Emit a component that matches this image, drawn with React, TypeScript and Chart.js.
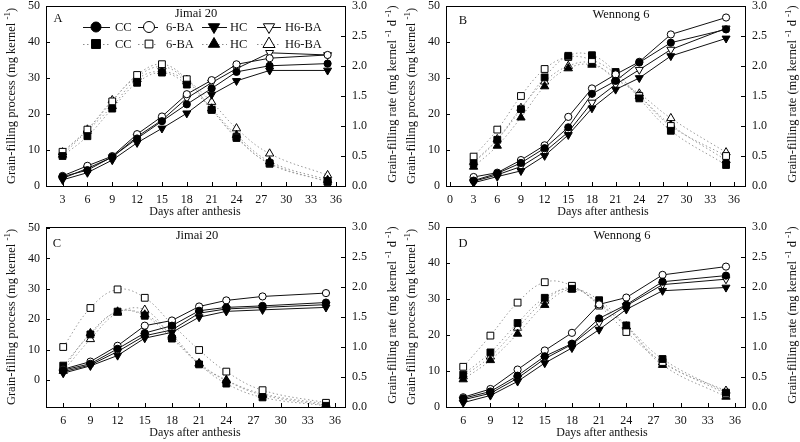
import React, { useEffect, useRef } from "react";
import { Chart, registerables } from "chart.js";
Chart.register(...registerables);

const FONT = '"Liberation Serif", "Times New Roman", Times, serif';

const treatments = ["CC", "6-BA", "HC", "H6-BA"];

const daysAB = [3, 6, 9, 12, 15, 18, 21, 24, 28, 35];
const daysCD = [6, 9, 12, 15, 18, 21, 24, 28, 35];

const xTicksA = [3, 6, 9, 12, 15, 18, 21, 24, 27, 30, 33, 36];
const xTicksB = [0, 3, 6, 9, 12, 15, 18, 21, 24, 27, 30, 33, 36];
const xTicksCD = [6, 9, 12, 15, 18, 21, 24, 27, 30, 33, 36];
const leftTicks = [0, 10, 20, 30, 40, 50];
const rightTicks = [0, 0.5, 1, 1.5, 2, 2.5, 3];

// Panel A (Jimai 20) — grain-filling process (mg kernel-1)
const aProcCC = [2.6, 4.4, 8.1, 13.2, 18.0, 22.7, 27.1, 31.7, 33.4, 34.0];
const aProc6BA = [2.8, 5.6, 8.3, 14.4, 19.3, 25.5, 29.4, 33.8, 35.5, 36.4];
const aProcHC = [1.7, 3.7, 7.2, 12.0, 16.0, 20.2, 25.4, 29.2, 32.1, 32.1];
const aProcH6BA = [2.1, 4.9, 8.0, 13.7, 18.3, 24.4, 28.7, 32.6, 37.0, 36.4];
// Panel A — grain-filling rate (mg kernel-1 d-1)
const aRateCC = [0.5, 0.83, 1.29, 1.72, 1.89, 1.69, 1.27, 0.8, 0.38, 0.07];
const aRate6BA = [0.57, 0.94, 1.41, 1.85, 2.03, 1.78, 1.27, 0.82, 0.37, 0.07];
const aRateHC = [0.52, 0.92, 1.33, 1.78, 1.91, 1.74, 1.29, 0.85, 0.41, 0.1];
const aRateH6BA = [0.56, 0.94, 1.43, 1.82, 1.99, 1.77, 1.4, 0.96, 0.54, 0.18];

// Panel B (Wennong 6)
const bProcCC = [1.5, 3.5, 6.4, 10.5, 16.3, 25.6, 29.2, 34.3, 39.8, 43.5];
const bProc6BA = [2.5, 3.7, 7.2, 11.3, 19.2, 27.1, 31.0, 34.5, 42.1, 46.8];
const bProcHC = [0.9, 2.6, 4.2, 8.4, 14.2, 21.6, 26.8, 30.0, 36.1, 41.0];
const bProcH6BA = [1.3, 3.1, 5.4, 9.5, 15.0, 23.2, 28.2, 32.3, 37.9, 43.8];
const bRateCC = [0.38, 0.77, 1.28, 1.81, 2.17, 2.18, 1.9, 1.46, 0.92, 0.35];
const bRate6BA = [0.49, 0.94, 1.5, 1.95, 2.15, 2.1, 1.87, 1.5, 1.0, 0.5];
const bRateHC = [0.32, 0.67, 1.14, 1.66, 1.96, 2.02, 1.8, 1.5, 1.02, 0.43];
const bRateH6BA = [0.4, 0.78, 1.3, 1.74, 2.0, 2.05, 1.78, 1.54, 1.13, 0.56];

// Panel C (Jimai 20)
const cProcCC = [3.3, 5.4, 10.3, 15.5, 17.9, 22.8, 23.9, 24.4, 25.5];
const cProc6BA = [3.6, 6.1, 11.3, 17.9, 19.6, 24.2, 26.2, 27.5, 28.6];
const cProcHC = [2.3, 4.7, 8.1, 13.8, 15.7, 20.7, 22.6, 23.1, 23.9];
const cProcH6BA = [2.8, 5.0, 9.4, 14.6, 16.5, 22.0, 23.4, 23.9, 24.8];
const cRateCC = [0.69, 1.21, 1.59, 1.52, 1.14, 0.71, 0.39, 0.16, 0.02];
const cRate6BA = [1.0, 1.65, 1.96, 1.82, 1.38, 0.95, 0.59, 0.28, 0.07];
const cRateHC = [0.64, 1.23, 1.59, 1.54, 1.2, 0.72, 0.44, 0.2, 0.03];
const cRateH6BA = [0.6, 1.13, 1.57, 1.62, 1.17, 0.73, 0.45, 0.22, 0.05];

// Panel D (Wennong 6)
const dProcCC = [2.4, 4.3, 8.7, 14.1, 17.6, 24.6, 28.4, 34.8, 36.5];
const dProc6BA = [2.7, 5.0, 10.4, 15.7, 20.6, 28.5, 30.4, 36.7, 39.0];
const dProcHC = [1.2, 3.2, 7.1, 12.2, 16.4, 21.5, 27.1, 32.3, 33.2];
const dProcH6BA = [2.0, 3.8, 8.0, 13.4, 17.4, 23.4, 28.1, 34.0, 35.5];
const dRateCC = [0.54, 0.91, 1.4, 1.82, 1.97, 1.78, 1.36, 0.8, 0.24];
const dRate6BA = [0.67, 1.19, 1.74, 2.08, 2.02, 1.69, 1.25, 0.75, 0.22];
const dRateHC = [0.46, 0.78, 1.22, 1.7, 1.96, 1.73, 1.34, 0.7, 0.17];
const dRateH6BA = [0.51, 0.84, 1.32, 1.77, 1.99, 1.71, 1.34, 0.74, 0.27];

type Shape = "circle" | "rect" | "triangle";
interface MarkStyle { shape: Shape; filled: boolean; r: number; rot: number }

const procStyles: MarkStyle[] = [
  { shape: "circle", filled: true, r: 3.6, rot: 0 },
  { shape: "circle", filled: false, r: 3.6, rot: 0 },
  { shape: "triangle", filled: true, r: 4.6, rot: 180 },
  { shape: "triangle", filled: false, r: 4.6, rot: 180 },
];
const rateStyles: MarkStyle[] = [
  { shape: "rect", filled: true, r: 4.8, rot: 0 },
  { shape: "rect", filled: false, r: 4.8, rot: 0 },
  { shape: "triangle", filled: true, r: 4.8, rot: 0 },
  { shape: "triangle", filled: false, r: 4.8, rot: 0 },
];

interface PanelSpec {
  left: number; top: number;
  days: number[]; xTicks: number[]; xMin: number; xMax: number;
  yMin: number; yMax: number;
  proc: number[][]; rate: number[][];
  title: string; titleX: number; titleY: number;
  letter: string; letterX: number; letterY: number;
  xTitleX: number; legend: boolean;
}

const panels: PanelSpec[] = [
  {
    left: 0, top: 0, days: daysAB, xTicks: xTicksA, xMin: 1, xMax: 37.1, yMin: 0, yMax: 50,
    proc: [aProcCC, aProc6BA, aProcHC, aProcH6BA], rate: [aRateCC, aRate6BA, aRateHC, aRateH6BA],
    title: "Jimai 20", titleX: 196, titleY: 14, letter: "A", letterX: 58, letterY: 19,
    xTitleX: 195, legend: true,
  },
  {
    left: 400, top: 0, days: daysAB, xTicks: xTicksB, xMin: -0.5, xMax: 37.4, yMin: 0, yMax: 50,
    proc: [bProcCC, bProc6BA, bProcHC, bProcH6BA], rate: [bRateCC, bRate6BA, bRateHC, bRateH6BA],
    title: "Wennong 6", titleX: 221, titleY: 15, letter: "B", letterX: 63, letterY: 21,
    xTitleX: 203, legend: false,
  },
  {
    left: 0, top: 221, days: daysCD, xTicks: xTicksCD, xMin: 4.1, xMax: 37.1, yMin: -8.8, yMax: 50.3,
    proc: [cProcCC, cProc6BA, cProcHC, cProcH6BA], rate: [cRateCC, cRate6BA, cRateHC, cRateH6BA],
    title: "Jimai 20", titleX: 197, titleY: 15, letter: "C", letterX: 57, letterY: 23,
    xTitleX: 195, legend: false,
  },
  {
    left: 400, top: 221, days: daysCD, xTicks: xTicksCD, xMin: 4.1, xMax: 37.1, yMin: 0, yMax: 50,
    proc: [dProcCC, dProc6BA, dProcHC, dProcH6BA], rate: [dRateCC, dRate6BA, dRateHC, dRateH6BA],
    title: "Wennong 6", titleX: 222, titleY: 15, letter: "D", letterX: 63, letterY: 23,
    xTitleX: 202, legend: false,
  },
];

function drawShape(ctx: CanvasRenderingContext2D, shape: Shape, x: number, y: number, r: number, rot: number, filled: boolean) {
  ctx.beginPath();
  if (shape === "circle") {
    ctx.arc(x, y, r, 0, Math.PI * 2);
  } else if (shape === "rect") {
    const s = r * Math.SQRT1_2;
    ctx.rect(x - s, y - s, 2 * s, 2 * s);
  } else {
    let a = (rot * Math.PI) / 180;
    ctx.moveTo(x + Math.sin(a) * r, y - Math.cos(a) * r);
    a += (2 * Math.PI) / 3;
    ctx.lineTo(x + Math.sin(a) * r, y - Math.cos(a) * r);
    a += (2 * Math.PI) / 3;
    ctx.lineTo(x + Math.sin(a) * r, y - Math.cos(a) * r);
    ctx.closePath();
  }
  ctx.fillStyle = filled ? "#000" : "#fff";
  ctx.fill();
  ctx.lineWidth = 1;
  ctx.strokeStyle = "#000";
  ctx.stroke();
}

type Part = { t: string; sup?: boolean };
function drawRotatedTitle(ctx: CanvasRenderingContext2D, cx: number, cy: number, parts: Part[], size: number) {
  const main = `${size}px ${FONT}`;
  const sup = `${Math.round(size * 0.68)}px ${FONT}`;
  let total = 0;
  const widths = parts.map((p) => {
    ctx.font = p.sup ? sup : main;
    const w = ctx.measureText(p.t).width;
    total += w;
    return w;
  });
  ctx.save();
  ctx.translate(cx, cy);
  ctx.rotate(-Math.PI / 2);
  ctx.textBaseline = "middle";
  ctx.textAlign = "left";
  ctx.fillStyle = "#111";
  let x = -total / 2;
  parts.forEach((p, i) => {
    ctx.font = p.sup ? sup : main;
    ctx.fillText(p.t, x, p.sup ? -size * 0.35 : 0);
    x += widths[i];
  });
  ctx.restore();
}

function makeDecor(p: PanelSpec) {
  return {
    id: "decor" + p.letter,
    afterDraw(chart: any) {
      const { ctx, chartArea: a, scales } = chart;
      ctx.save();
      ctx.strokeStyle = "#000";
      ctx.lineWidth = 1;
      ctx.strokeRect(Math.round(a.left) + 0.5, Math.round(a.top) + 0.5, Math.round(a.right - a.left), Math.round(a.bottom - a.top));
      const tl = 4;
      ctx.beginPath();
      scales.x.ticks.forEach((t: any) => {
        const px = Math.round(scales.x.getPixelForValue(t.value)) + 0.5;
        ctx.moveTo(px, a.bottom);
        ctx.lineTo(px, a.bottom - tl);
      });
      scales.y.ticks.forEach((t: any) => {
        const py = Math.round(scales.y.getPixelForValue(t.value)) + 0.5;
        ctx.moveTo(a.left, py);
        ctx.lineTo(a.left + tl, py);
      });
      scales.y1.ticks.forEach((t: any) => {
        const py = Math.round(scales.y1.getPixelForValue(t.value)) + 0.5;
        ctx.moveTo(a.right, py);
        ctx.lineTo(a.right - tl, py);
      });
      ctx.stroke();

      // axis titles
      drawRotatedTitle(ctx, 12, (a.top + a.bottom) / 2, [
        { t: "Grain-filling process (mg kernel " }, { t: "-1", sup: true }, { t: ")" },
      ], 12.5);
      drawRotatedTitle(ctx, 393, (a.top + a.bottom) / 2 - 2, [
        { t: "Grain-filling rate (mg kernel " }, { t: "-1", sup: true }, { t: " d " }, { t: "-1", sup: true }, { t: ")" },
      ], 12.5);
      ctx.fillStyle = "#111";
      ctx.font = `12px ${FONT}`;
      ctx.textAlign = "center";
      ctx.textBaseline = "middle";
      ctx.fillText("Days after anthesis", p.xTitleX, 212);

      // panel title and letter
      ctx.font = `12.5px ${FONT}`;
      ctx.fillText(p.title, p.titleX, p.titleY);
      ctx.fillText(p.letter, p.letterX, p.letterY);

      if (p.legend) {
        const cols = [
          { l0: 83, l1: 110, m: 96, t: 115 },
          { l0: 138, l1: 158, m: 149, t: 166 },
          { l0: 202, l1: 227, m: 214, t: 230 },
          { l0: 257, l1: 281, m: 269, t: 285 },
        ];
        const rows = [27, 44];
        const legProc: MarkStyle[] = [
          { shape: "circle", filled: true, r: 5, rot: 0 },
          { shape: "circle", filled: false, r: 5.5, rot: 0 },
          { shape: "triangle", filled: true, r: 6.5, rot: 180 },
          { shape: "triangle", filled: false, r: 6.5, rot: 180 },
        ];
        const legRate: MarkStyle[] = [
          { shape: "rect", filled: true, r: 6.3, rot: 0 },
          { shape: "rect", filled: false, r: 5.5, rot: 0 },
          { shape: "triangle", filled: true, r: 6.5, rot: 0 },
          { shape: "triangle", filled: false, r: 7, rot: 0 },
        ];
        cols.forEach((c, i) => {
          ctx.setLineDash([]);
          ctx.strokeStyle = "#111";
          ctx.lineWidth = 1;
          ctx.beginPath();
          ctx.moveTo(c.l0, rows[0] + 0.5);
          ctx.lineTo(c.l1, rows[0] + 0.5);
          ctx.stroke();
          const s1 = legProc[i];
          drawShape(ctx, s1.shape, c.m, rows[0], s1.r, s1.rot, s1.filled);
          ctx.setLineDash([1.5, 2.5]);
          ctx.strokeStyle = "#8c8c8c";
          ctx.beginPath();
          ctx.moveTo(c.l0, rows[1] + 0.5);
          ctx.lineTo(c.l1, rows[1] + 0.5);
          ctx.stroke();
          ctx.setLineDash([]);
          const s2 = legRate[i];
          drawShape(ctx, s2.shape, c.m, rows[1], s2.r, s2.rot, s2.filled);
          ctx.fillStyle = "#111";
          ctx.font = `12.5px ${FONT}`;
          ctx.textAlign = "left";
          ctx.textBaseline = "middle";
          ctx.fillText(treatments[i], c.t, rows[0] + 0.5);
          ctx.fillText(treatments[i], c.t, rows[1] + 0.5);
        });
      }
      ctx.restore();
    },
  };
}

function Panel({ p }: { p: PanelSpec }) {
  const ref = useRef<HTMLCanvasElement>(null);
  useEffect(() => {
    const canvas = ref.current;
    if (!canvas) return;
    const datasets: any[] = [];
    p.proc.forEach((vals, i) => {
      const st = procStyles[i];
      datasets.push({
        label: treatments[i] + " process",
        data: p.days.map((d, j) => ({ x: d, y: vals[j] })),
        yAxisID: "y",
        borderColor: "#111",
        borderWidth: 1,
        tension: 0,
        pointStyle: st.shape,
        pointRadius: st.r,
        pointRotation: st.rot,
        pointBackgroundColor: st.filled ? "#000" : "#fff",
        pointBorderColor: "#000",
        pointBorderWidth: 1,
      });
    });
    p.rate.forEach((vals, i) => {
      const st = rateStyles[i];
      datasets.push({
        label: treatments[i] + " rate",
        data: p.days.map((d, j) => ({ x: d, y: vals[j] })),
        yAxisID: "y1",
        borderColor: "#999",
        borderWidth: 1,
        borderDash: [1.5, 2.5],
        tension: 0.4,
        pointStyle: st.shape,
        pointRadius: st.r,
        pointRotation: st.rot,
        pointBackgroundColor: st.filled ? "#000" : "#fff",
        pointBorderColor: "#000",
        pointBorderWidth: 1,
      });
    });
    const tickFont = { family: FONT, size: 12, lineHeight: 1 };
    const chart = new Chart(canvas, {
      type: "line",
      data: { datasets },
      options: {
        responsive: false,
        animation: false,
        layout: { padding: { top: 6, left: 0, right: 0, bottom: 0 } },
        plugins: { legend: { display: false }, tooltip: { enabled: false }, title: { display: false } },
        scales: {
          x: {
            type: "linear",
            min: p.xMin,
            max: p.xMax,
            afterBuildTicks: (s: any) => { s.ticks = p.xTicks.map((v) => ({ value: v })); },
            afterFit: (s: any) => { s.height = 35; s.paddingLeft = 0; s.paddingRight = 0; },
            ticks: { font: tickFont, color: "#111", padding: 8, autoSkip: false, maxRotation: 0 },
            grid: { display: false, drawTicks: false },
            border: { display: false },
          },
          y: {
            type: "linear",
            position: "left",
            min: p.yMin,
            max: p.yMax,
            afterBuildTicks: (s: any) => { s.ticks = leftTicks.map((v) => ({ value: v })); },
            afterFit: (s: any) => { s.width = 46; s.paddingTop = 0; s.paddingBottom = 0; },
            ticks: { font: tickFont, color: "#111", padding: 6 },
            grid: { display: false, drawTicks: false },
            border: { display: false },
          },
          y1: {
            type: "linear",
            position: "right",
            min: 0,
            max: 3,
            afterBuildTicks: (s: any) => { s.ticks = rightTicks.map((v) => ({ value: v })); },
            afterFit: (s: any) => { s.width = 55; s.paddingTop = 0; s.paddingBottom = 0; },
            ticks: { font: tickFont, color: "#111", padding: 7, callback: (v: any) => Number(v).toFixed(1) },
            grid: { display: false, drawTicks: false },
            border: { display: false },
          },
        },
      } as any,
      plugins: [makeDecor(p)],
    });
    return () => chart.destroy();
  }, [p]);
  return (
    <canvas
      ref={ref}
      width={400}
      height={221}
      style={{ position: "absolute", left: p.left, top: p.top, width: 400, height: 221 }}
    />
  );
}

export default function App() {
  return (
    <div style={{ position: "absolute", left: 0, top: 0, width: 800, height: 442, background: "#fff" }}>
      {panels.map((p) => (
        <Panel key={p.letter} p={p} />
      ))}
    </div>
  );
}
